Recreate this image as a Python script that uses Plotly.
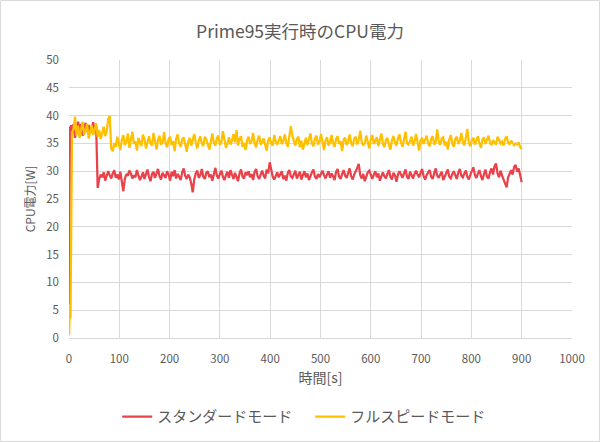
import plotly.graph_objects as go

# 時間[s] : 1 s steps during start-up, then every 3 s
time_start = [0, 1, 2, 3, 4, 5, 6]
time_main = list(range(9, 901, 3))
time_s = time_start + time_main

# スタンダードモード (W)
standard_start = [6.0, 30.0, 38.0, 37.4, 38.3, 36.8, 37.9]
standard_early = [38.4, 36.0, 37.6, 38.9, 37.2, 38.5, 36.4, 37.8,
                  38.7, 37.1, 38.3, 36.9, 37.5, 38.8, 37.4, 38.1]
standard_rest = [
    27.0, 28.6, 29.4, 28.9, 29.8, 28.3, 29.1, 30.0, 29.3, 28.7,
    29.6, 30.2, 28.8, 29.4, 28.5, 29.9, 28.1, 26.4, 28.6, 29.5,
    29.2, 30.1, 29.6, 28.7, 29.3, 28.9, 30.2, 29.4, 28.4, 29.0,
    29.8, 28.6, 29.3, 30.3, 29.0, 28.2, 29.5, 29.9, 28.8, 29.6,
    30.4, 29.1, 28.5, 29.7, 29.2, 28.8, 30.0, 29.4, 28.3, 29.9,
    29.1, 30.2, 28.7, 29.5, 29.0, 28.4, 29.8, 30.5, 29.2, 28.6,
    29.4, 28.9, 27.8, 26.2, 28.5, 29.6, 30.1, 28.8, 29.3, 30.4,
    29.0, 28.6, 29.7, 30.0, 28.9, 29.4, 28.3, 29.8, 30.6, 29.2,
    28.7, 29.5, 30.1, 29.0, 28.4, 29.3, 29.9, 28.8, 30.2, 29.4,
    28.6, 29.7, 29.1, 28.2, 29.6, 30.3, 29.0, 28.7, 29.8, 29.3,
    30.0, 28.9, 29.5, 28.4, 29.9, 30.4, 29.1, 28.6, 29.4, 30.1,
    29.2, 28.7, 30.3, 29.6, 31.6, 30.2, 29.0, 28.5, 29.3, 29.8,
    28.9, 29.6, 30.0, 28.6, 29.2, 28.3, 29.7, 30.2, 29.1, 28.8,
    29.5, 30.1, 28.7, 29.3, 29.9, 28.5, 29.4, 30.0, 28.9, 29.6,
    28.4, 29.2, 29.8, 30.3, 29.0, 28.6, 29.5, 28.9, 29.7, 30.1,
    29.3, 28.7, 29.4, 30.0, 28.8, 29.6, 29.1, 28.4, 29.9, 30.4,
    29.0, 28.6, 29.5, 30.2, 29.2, 28.8, 29.7, 30.5, 29.1, 28.5,
    29.4, 29.9, 30.6, 31.3, 29.3, 28.7, 29.5, 28.2, 29.0, 29.8,
    30.1, 29.2, 28.6, 29.4, 30.0, 28.9, 29.6, 28.3, 29.2, 29.8,
    29.1, 28.7, 29.5, 30.2, 29.0, 28.5, 29.7, 29.3, 28.1, 29.4,
    30.0, 29.2, 28.8, 29.6, 30.3, 29.0, 28.6, 29.9, 29.3, 28.7,
    29.5, 30.1, 29.4, 28.9, 29.7, 30.4, 29.1, 28.5, 29.3, 29.8,
    30.2, 29.0, 28.6, 29.6, 30.5, 29.2, 28.8, 29.4, 29.9, 28.4,
    29.1, 29.7, 30.3, 29.0, 28.7, 29.5, 30.0, 29.3, 28.6, 29.8,
    30.4, 29.2, 28.9, 29.6, 30.1, 29.0, 28.5, 29.4, 30.0, 30.7,
    29.3, 28.8, 29.6, 30.2, 29.1, 28.4, 29.5, 30.3, 29.0, 28.7,
    29.8, 30.5, 29.4, 30.9, 31.4, 29.6, 28.9, 30.1, 29.2, 28.6,
    28.0, 27.1, 28.9, 29.7, 30.2, 29.4, 30.8, 31.1, 29.9, 30.5,
    29.2, 28.0,
]
standard_w = standard_start + standard_early + standard_rest

# フルスピードモード (W)
full_start = [0.5, 4.0, 5.8, 3.6, 20.0, 35.5, 37.0]
full_early = [37.5, 39.8, 36.4, 38.2, 36.0, 37.8, 38.9, 36.6, 37.3, 38.5,
              35.9, 37.0, 38.3, 36.5, 37.7, 38.6, 36.2, 37.4, 35.8, 36.9,
              38.0, 36.3, 37.2, 39.4, 39.9]
full_rest = [
    34.0, 33.6, 35.1, 34.4, 36.2, 35.0, 33.8, 35.6, 36.5, 34.7,
    35.3, 36.8, 34.2, 35.7, 37.1, 34.9, 35.4, 33.7, 36.0, 35.2,
    34.5, 36.6, 35.8, 34.1, 35.5, 36.3, 35.0, 34.6, 36.9, 35.3,
    33.9, 35.6, 36.4, 34.8, 35.2, 37.0, 35.1, 34.3, 35.8, 36.2,
    34.7, 35.4, 33.6, 35.9, 36.6, 35.0, 34.4, 35.7, 36.1, 34.9,
    33.5, 35.3, 36.0, 34.6, 35.8, 36.7, 35.2, 34.1, 35.5, 36.3,
    35.0, 34.5, 36.2, 35.7, 34.8, 33.9, 35.4, 36.8, 35.1, 34.6,
    35.9, 36.4, 34.7, 35.3, 37.2, 35.6, 34.2, 35.0, 36.1, 34.8,
    35.5, 36.7, 35.2, 37.4, 34.6, 35.8, 36.3, 34.4, 35.1, 33.8,
    35.6, 36.2, 34.9, 35.4, 36.9, 35.0, 34.3, 35.7, 36.4, 34.8,
    35.2, 35.9, 34.5, 33.7, 35.6, 36.1, 35.0, 34.6, 36.5, 35.3,
    34.8, 35.7, 36.3, 34.9, 35.4, 36.6, 35.1, 34.4, 36.0, 38.1,
    36.4, 35.2, 34.6, 35.8, 36.2, 34.3, 35.5, 33.9, 35.1, 36.0,
    34.7, 35.6, 36.8, 35.0, 34.5, 35.9, 36.4, 34.8, 35.3, 36.7,
    35.1, 33.8, 35.5, 36.1, 34.6, 35.2, 36.5, 35.0, 34.4, 35.8,
    36.3, 34.9, 35.4, 33.6, 35.7, 36.0, 34.7, 35.3, 36.6, 35.1,
    34.5, 35.9, 36.2, 34.8, 35.6, 37.3, 35.2, 34.6, 35.0, 36.4,
    35.3, 34.1, 35.8, 36.5, 34.9, 35.4, 36.1, 34.5, 35.7, 36.8,
    35.0, 34.3, 35.6, 36.0, 34.7, 33.9, 35.5, 36.3, 35.1, 34.6,
    35.9, 36.6, 35.2, 34.4, 35.7, 37.1, 35.0, 34.8, 35.4, 36.2,
    34.6, 35.3, 36.7, 35.1, 33.7, 35.6, 36.0, 34.9, 35.5, 36.4,
    35.0, 34.5, 35.8, 36.3, 34.8, 35.2, 37.5, 35.4, 34.7, 35.9,
    36.1, 34.6, 35.3, 33.9, 35.7, 36.5, 35.0, 34.4, 35.8, 36.2,
    34.9, 35.5, 36.9, 35.2, 34.6, 35.9, 37.6, 35.1, 34.5, 35.6,
    36.0, 34.8, 35.4, 36.3, 35.0, 34.2, 35.7, 36.1, 34.9, 35.5,
    36.4, 35.1, 34.7, 35.6, 35.2, 34.8, 36.2, 35.4, 35.0, 35.3,
    34.6, 35.8, 36.3, 35.1, 34.9, 35.5, 35.2, 34.7, 35.0, 34.8,
    35.2, 34.3, 34.0,
]
full_w = full_start + full_early + full_rest

assert len(standard_w) == len(time_s) and len(full_w) == len(time_s)

FONT = "Noto Sans CJK JP"
GRAY = "#595959"

fig = go.Figure()
fig.add_trace(go.Scatter(
    x=time_s, y=standard_w, mode="lines", name="スタンダードモード",
    line=dict(color="#E9424B", width=2.25),
))
fig.add_trace(go.Scatter(
    x=time_s, y=full_w, mode="lines", name="フルスピードモード",
    line=dict(color="#FFC000", width=2.25),
))

fig.update_layout(
    width=600, height=442,
    paper_bgcolor="white", plot_bgcolor="white",
    font=dict(family=FONT, color=GRAY, size=11),
    title=dict(text="Prime95実行時のCPU電力", x=0.5, xanchor="center",
               y=0.928, yanchor="middle", font=dict(size=17.5, color=GRAY)),
    margin=dict(l=69, r=28, t=60, b=104),
    legend=dict(orientation="h", xref="container", yref="container",
                x=0.517, xanchor="center", y=0.057, yanchor="middle",
                font=dict(size=15, color=GRAY), itemwidth=30,
                entrywidth=148, traceorder="normal"),
    shapes=[dict(type="rect", xref="paper", yref="paper",
                 x0=-0.136, x1=1.0547, y0=-0.372, y1=1.214,
                 line=dict(color="#D9D9D9", width=1))],
)
fig.update_xaxes(
    range=[0, 1000], dtick=100, showgrid=True, gridcolor="#D9D9D9", gridwidth=1,
    zeroline=False, showline=True, linecolor="#D9D9D9",
    ticklabelstandoff=10,
    title=dict(text="時間[s]", font=dict(size=14, color=GRAY), standoff=8),
    tickfont=dict(size=11.5, color=GRAY),
)
fig.update_yaxes(
    range=[0, 50], dtick=5, showgrid=True, gridcolor="#D9D9D9", gridwidth=1,
    zeroline=False, showline=False,
    ticklabelstandoff=9,
    title=dict(text="CPU電力[W]", font=dict(size=12, color=GRAY), standoff=8),
    tickfont=dict(size=11.5, color=GRAY),
)

fig.write_html("out.html", config={"displayModeBar": False},
               post_script="document.body.style.margin='0';")
